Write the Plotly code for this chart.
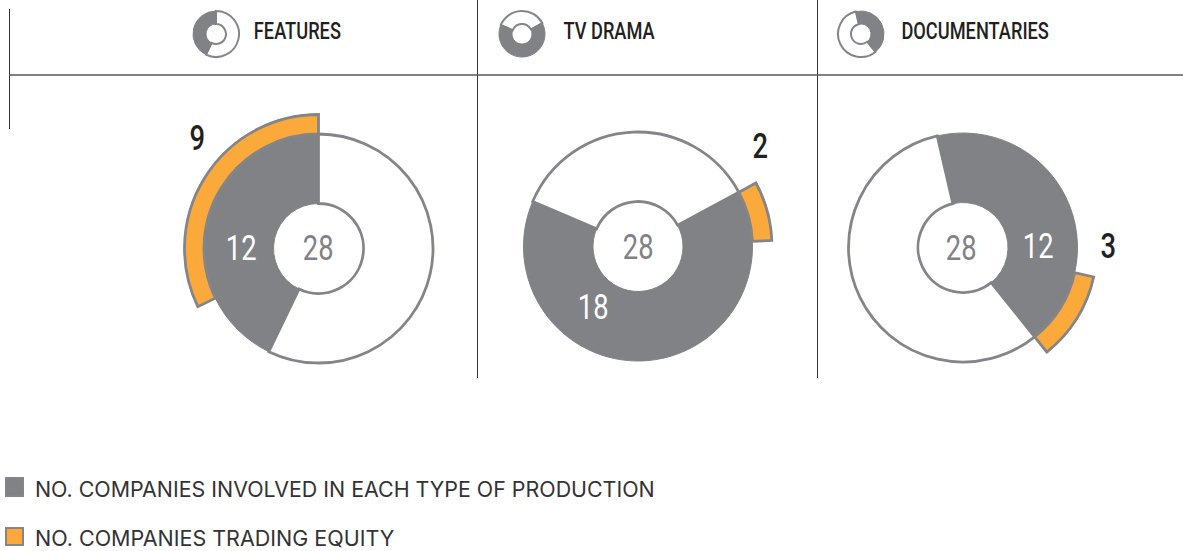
import plotly.graph_objects as go

W, H = 1183, 551
TOTAL = 28
categories = ["FEATURES", "TV DRAMA", "DOCUMENTARIES"]
involved = [12, 18, 12]
trading = [9, 2, 3]
legend_labels = ["NO. COMPANIES INVOLVED IN EACH TYPE OF PRODUCTION", "NO. COMPANIES TRADING EQUITY"]

GREY = "#808285"
EDGE = "#848589"
ORANGE = "#FBA93B"
INK = "#231F20"
COND = "Roboto"
BODY = "Inter"

centers = [(318.5, 248.5), (638, 246.5), (963, 247.5)]
label_centers = [(318, 248), (638, 247), (961, 248)]
icon_centers = [(216, 34), (522, 34), (861, 34)]
heading_centers = [297, 608.5, 975]
rotations = [90, 28.3, 103]
directions = ["counterclockwise", "clockwise", "clockwise"]
orange_start = [0, 0, 115.7]
R_IN, R_OUT, R_EXT = 45, 114.5, 134
IR_IN, IR_OUT = 10, 23

def deg(v):
    return v / TOTAL * 360

fig = go.Figure()
layout = {}

def add_polar(idx, cx, cy, r_ext, rot, direction):
    name = "polar" if idx == 1 else f"polar{idx}"
    half = r_ext + 2
    layout[name] = dict(
        domain=dict(x=[(cx - half) / W, (cx + half) / W], y=[1 - (cy + half) / H, 1 - (cy - half) / H]),
        bgcolor="rgba(0,0,0,0)", barmode="overlay",
        radialaxis=dict(visible=False, range=[0, half]),
        angularaxis=dict(visible=False, rotation=rot, direction=direction),
    )
    return name

idx = 1
for i, cat in enumerate(categories):
    g = deg(involved[i])
    o = deg(trading[i])
    cx, cy = centers[i]
    sub = add_polar(idx, cx, cy, R_EXT, rotations[i], directions[i])
    fig.add_trace(go.Barpolar(subplot=sub, r=[R_OUT - R_IN], base=[R_IN], theta=[g + (360 - g) / 2], width=[360 - g],
                              marker=dict(color="white", line=dict(color=EDGE, width=2.8)), showlegend=False, hoverinfo="skip"))
    fig.add_trace(go.Barpolar(subplot=sub, r=[R_OUT - R_IN], base=[R_IN], theta=[g / 2], width=[g],
                              marker=dict(color=GREY, line=dict(color=GREY, width=1)), showlegend=False, name=cat))
    fig.add_trace(go.Barpolar(subplot=sub, r=[R_EXT - R_OUT], base=[R_OUT], theta=[orange_start[i] + o / 2], width=[o],
                              marker=dict(color=ORANGE, line=dict(color=EDGE, width=2.8)), showlegend=False, name=cat))
    idx += 1
    cx, cy = icon_centers[i]
    sub = add_polar(idx, cx, cy, IR_OUT, rotations[i], directions[i])
    fig.add_trace(go.Barpolar(subplot=sub, r=[IR_OUT - IR_IN], base=[IR_IN], theta=[g + (360 - g) / 2], width=[360 - g],
                              marker=dict(color="white", line=dict(color=EDGE, width=2)), showlegend=False, hoverinfo="skip"))
    fig.add_trace(go.Barpolar(subplot=sub, r=[IR_OUT - IR_IN], base=[IR_IN], theta=[g / 2], width=[g],
                              marker=dict(color=GREY, line=dict(color=GREY, width=1)), showlegend=False, hoverinfo="skip"))
    idx += 1

def label(text, x, y, size, color, family=COND, anchor="center", weight=400):
    return dict(text=text, x=x / W, y=1 - y / H, xref="paper", yref="paper", showarrow=False,
                xanchor=anchor, yanchor="middle", font=dict(size=size, color=color, family=family, weight=weight))

ann = []
for cat, x in zip(categories, heading_centers):
    ann.append(label(cat, x, 31, 24, INK, weight=500))
for cx, cy in label_centers:
    ann.append(label(str(TOTAL), cx, cy, 36, GREY))
ann += [
    label(str(involved[0]), 241, 248, 36, "white"),
    label(str(involved[1]), 593, 307, 36, "white"),
    label(str(involved[2]), 1038, 246, 36, "white"),
    label(str(trading[0]), 197, 138, 36, INK, weight=500),
    label(str(trading[1]), 760, 146, 36, INK, weight=500),
    label(str(trading[2]), 1108, 246, 36, INK, weight=500),
    label(legend_labels[0], 33, 489, 21.4, "#333335", BODY, "left"),
    label(legend_labels[1], 33, 538, 21.5, "#333335", BODY, "left"),
]

def line(x0, y0, x1, y1, color, w):
    return dict(type="line", xref="paper", yref="paper", x0=x0 / W, x1=x1 / W, y0=1 - y0 / H, y1=1 - y1 / H,
                line=dict(color=color, width=w))

def rect(x0, y0, x1, y1, fill, edge, w=2):
    return dict(type="rect", xref="paper", yref="paper", x0=x0 / W, x1=x1 / W, y0=1 - y0 / H, y1=1 - y1 / H,
                fillcolor=fill, line=dict(color=edge, width=w))

shapes = [
    line(9.5, 9, 9.5, 129, "#333335", 1),
    line(477.5, 0, 477.5, 378, "#333335", 1),
    line(817.5, 0, 817.5, 378, "#333335", 1),
    line(9, 75, W, 75, "#58595B", 1.5),
    rect(6, 478, 23, 496, GREY, EDGE),
    rect(6, 528, 23, 545, ORANGE, EDGE),
]

fig.update_layout(width=W, height=H, margin=dict(l=0, r=0, t=0, b=0), paper_bgcolor="white",
                  showlegend=False, annotations=ann, shapes=shapes, **layout)
post = """
document.body.style.margin='0';document.body.style.overflow='hidden';
var s=document.createElement('style');
s.textContent='.annotation-text[style*="Roboto"]{transform:scaleX(.76);transform-box:fill-box;transform-origin:center}';
document.head.appendChild(s);
"""
fig.write_html("out.html", config={"displayModeBar": False}, post_script=post)
